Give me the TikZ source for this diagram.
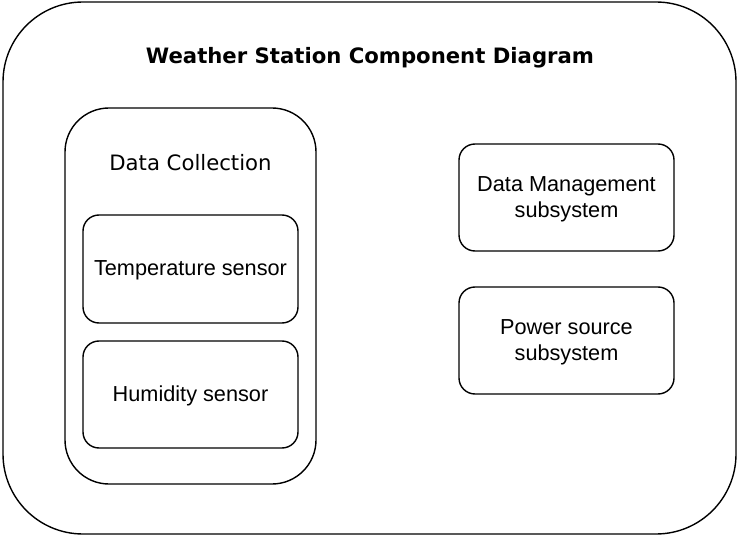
\documentclass[tikz,border=0pt]{standalone}
\usepackage{fontspec}
\setmainfont{Liberation Sans}
\newfontfamily\verdanalike{DejaVu Sans}
\begin{document}
\begin{tikzpicture}[x=1pt,y=-1pt,
  frame/.style={draw=black, line width=1.4pt},
  part/.style={frame, rounded corners=16pt},
  lbl/.style={align=center, font=\fontsize{21.7}{25.5}\selectfont}]
\useasboundingbox (0,0) rectangle (739,537);
% outer frame and title
\draw[frame, rounded corners=80pt] (3,2) rectangle (736,534);
\node[font=\verdanalike\bfseries\fontsize{21.2}{25}\selectfont] (title) at (370,58) {Weather Station Component Diagram};
% data collection group
\draw[frame, rounded corners=44pt] (65,108) rectangle (316,484);
\node[font=\verdanalike\fontsize{21.2}{25}\selectfont] (dc) at (190.5,163) {Data Collection};
\draw[part] (83,215) rectangle (298,323);
\node[lbl] (temp) at (190.5,270) {Temperature sensor};
\draw[part] (83,341) rectangle (298,448);
\node[lbl] (hum) at (190.5,395.5) {Humidity sensor};
% subsystems
\draw[part] (459,144) rectangle (674,251);
\node[lbl] (dm) at (566.5,199.5) {Data Management\\subsystem};
\draw[part] (459,287) rectangle (674,394);
\node[lbl] (ps) at (566.5,342.5) {Power source\\subsystem};
\end{tikzpicture}
\end{document}
